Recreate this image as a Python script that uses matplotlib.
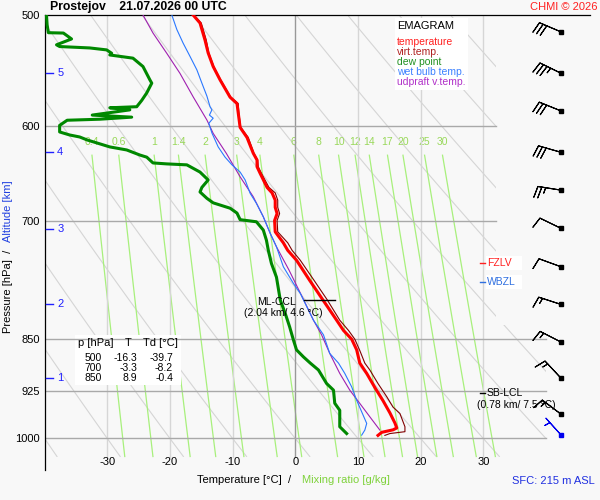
import numpy as np
import matplotlib
matplotlib.use("Agg")
import matplotlib.pyplot as plt
from matplotlib.patches import Polygon, Rectangle
from matplotlib.lines import Line2D
from matplotlib.ticker import NullLocator

plt.rcParams["font.family"] = ["Liberation Sans", "DejaVu Sans"]

# ---- sounding Prostejov 21.07.2026 00 UTC  (p [hPa], T [°C]) ----
temp_p = [500, 506.6, 521, 532, 544, 556, 572, 578, 587, 601,
          611, 627, 634, 641, 648, 663, 669, 677, 685, 692,
          700, 713, 726, 735, 747, 772, 797, 824, 838, 850,
          865, 884, 899, 920, 940, 959, 975, 983, 986, 990, 995]
temp_t = [-16.3, -15.2, -14.4, -13.9, -13.1, -12.0, -10.4, -9.3, -9.1, -8.8,
          -7.7, -6.7, -6.1, -6.1, -5.6, -4.5, -3.7, -3.2, -3.2, -2.9,
          -3.3, -3.2, -1.9, -1.2, 0.2, 2.3, 4.4, 6.6, 7.7, 9.0,
          9.8, 10.3, 11.4, 12.7, 14.0, 15.1, 15.9, 16.2, 15.6, 13.8, 13.2]

virt_p = [500, 506.6, 521, 532, 544, 556, 572, 578, 587, 601,
          611, 627, 634, 641, 648, 663, 669, 677, 685, 692,
          700, 713, 726, 735, 747, 772, 797, 824, 838, 850,
          866, 884, 894, 914, 934, 950, 960, 981, 989, 992, 995]
virt_t = [-16.2, -15.0, -14.2, -13.8, -13.0, -11.9, -10.3, -9.1, -9.0, -8.7,
          -7.5, -6.6, -6.0, -5.9, -5.4, -4.2, -3.2, -2.8, -2.8, -2.5,
          -2.9, -2.8, -1.2, -0.5, 0.8, 3.0, 5.1, 7.1, 8.5, 9.5,
          10.3, 11.1, 11.9, 13.2, 14.6, 15.6, 16.7, 17.5, 17.5, 15.1, 14.3]

dew_p = [500, 508, 514.7, 515, 520, 525, 526.5, 527.7, 529.4, 532.3,
         533.8, 536.6, 544, 556, 559, 568, 575, 581, 582, 584,
         589, 591, 593, 594, 599, 605.5, 608.5, 610.5, 613.5, 620.5,
         623.6, 628.8, 631, 637, 638, 639, 646.6, 655, 663, 668,
         675, 680, 686, 691.5, 699, 701.4, 711, 723, 735, 751,
         768, 797, 815, 833, 851, 865, 875, 884, 894, 914,
         924, 944, 955, 981, 992]
dew_t = [-39.7, -39.6, -39.4, -37.0, -35.7, -38.1, -37.6, -32.8, -30.1, -29.3,
         -29.6, -25.9, -24.3, -23.2, -22.9, -23.7, -24.5, -25.3, -29.6, -26.4,
         -32.4, -26.1, -31.2, -36.4, -37.6, -37.6, -36.0, -34.4, -33.2, -29.6,
         -26.9, -24.8, -23.7, -22.7, -20.5, -17.3, -15.2, -13.9, -14.9, -15.2,
         -14.1, -13.1, -10.4, -9.3, -8.8, -6.2, -5.1, -4.6, -4.3, -3.8,
         -3.0, -2.4, -1.6, -0.9, -0.3, 0.2, 1.3, 2.4, 3.7, 5.0,
         6.1, 6.3, 7.1, 7.1, 8.2]

wb_p = [500, 512, 523.5, 535, 547, 559, 571, 581, 584, 589,
        592, 597, 606.5, 620.5, 631, 639, 646.6, 655, 669.5, 680.6,
        695.7, 714.8, 730.7, 755, 775.8, 788.6, 824, 844, 870, 884,
        899, 919, 939.5, 957.4, 975.7, 986.4, 994.6]
wb_t = [-19.7, -18.9, -17.9, -16.8, -15.7, -14.9, -14.1, -13.6, -13.3, -13.7,
        -13.1, -13.8, -13.3, -12.3, -11.2, -10.1, -8.8, -8.0, -7.2, -6.2,
        -5.1, -4.0, -3.0, -1.9, -0.3, 0.8, 2.9, 4.5, 5.5, 6.9,
        7.9, 9.0, 9.8, 10.6, 11.4, 11.1, 10.6]

upd_p = [500, 515, 532.4, 550.1, 571.6, 593.8, 606.9, 627.1, 651.6, 673.3,
         695.7, 714.8, 730.7, 759.1, 793, 824, 844, 870, 899, 924,
         944.3, 965.2, 986.4]
upd_t = [-24.3, -22.7, -20.5, -18.4, -16.3, -14.1, -13.1, -11.0, -8.8, -6.7,
         -5.1, -4.0, -3.0, -1.0, 1.1, 2.9, 4.2, 5.5, 7.1, 8.7,
         10.3, 11.9, 13.5]

# wind every 500 m (direction [deg], speed [kt])
wind_p = [514, 550, 585, 626, 666, 709, 755, 803, 854, 906, 961]
wind_dir = [293, 296, 292, 286, 279, 296, 290, 288, 297, 317, 307]
wind_kt = [30, 35, 30, 30, 25, 10, 10, 15, 15, 15, 15]
sfc_p, sfc_dir, sfc_kt = 994, 318, 5

alt_km = [1, 2, 3, 4, 5]
alt_p = [906, 803, 710, 626, 550]

tbl_p = [500, 700, 850]
tbl_t = [-16.3, -3.3, 8.9]
tbl_td = [-39.7, -8.2, -0.4]

p_levels = [500, 600, 700, 850, 925, 1000]
iso_t = [-30, -20, -10, 0, 10, 20, 30]
dry_theta = list(range(-40, 120, 10))
mix_w = [0.4, 0.6, 1, 1.4, 2, 3, 4, 6, 8, 10, 12, 14, 17, 20, 25, 30]

ccl_p, ccl_t = 797, 4.6


def mr_temp(w, p):
    e = w * p / (622.0 + w)
    a = np.log(e / 6.112)
    return 243.5 * a / (17.67 - a)


# --------------------------------------------------------------------
W, H = 600, 500
BG = "#f8f8f8"
fig = plt.figure(figsize=(W / 100, H / 100), dpi=100, facecolor=BG)
ax = fig.add_axes([44.6 / W, 30 / H, 545.2 / W, 455 / H])
ax.set_facecolor(BG)
ax.set_yscale("log")
ax.set_xlim(-40, 47)
ax.set_ylim(1053, 500)
for s in ("right", "bottom"):
    ax.spines[s].set_visible(False)
for s in ("left", "top"):
    ax.spines[s].set_linewidth(0.9)
ax.set_xticks([])
ax.set_yticks(p_levels)
ax.set_yticklabels([str(p) for p in p_levels])
ax.yaxis.set_minor_locator(NullLocator())
ax.tick_params(axis="y", length=0, pad=3.5, labelsize=8)


def px(x, y, s, **kw):
    return fig.text(x / W, 1 - y / H, s, **kw)


def pxbox(x0, y0, x1, y1, z=1.5):
    ax.add_patch(Rectangle((x0 / W, 1 - y1 / H), (x1 - x0) / W, (y1 - y0) / H,
                           transform=fig.transFigure, fc="white", ec="none", zorder=z))


clip = Polygon([(-40, 500), (32, 500), (32, 830), (40, 830), (40, 1030), (-40, 1030)],
               closed=True, transform=ax.transData)

# ------ background diagram lines ------
pp = np.geomspace(500, 1030, 120)
for th in dry_theta:
    ln, = ax.plot((th + 273.15) * (pp / 1000) ** 0.2857 - 273.15, pp,
                  color="#d5d5d5", lw=0.8, zorder=1)
    ln.set_clip_path(clip)

pm = np.geomspace(629, 1030, 60)
for w in mix_w:
    ax.plot(mr_temp(w, pm), pm, color="#a8f07c", lw=0.9, zorder=1.1)
    ax.text(mr_temp(w, 629), 616, f"{w:g}", color="#99d85a", fontsize=7.5,
            ha="center", va="center", zorder=1.1)

for t in iso_t:
    ax.plot([t, t], [500, 1030], color="#999999" if t == 0 else "#d6d6d6",
            lw=1, zorder=1.2)
    ax.text(t, 1040, f"{t}", ha="center", va="center", fontsize=8)

for p in p_levels[1:]:
    ax.plot([-40, 32 if p < 800 else 40], [p, p], color="#a9a9a9", lw=1, zorder=1.7)

# ------ boxes ------
pxbox(395, 18, 468, 90)
pxbox(75, 335, 181, 385)
pxbox(486, 256, 522, 270)
pxbox(486, 275, 522, 289)

# ------ profiles ------
ax.plot(upd_t, upd_p, color="#a020b0", lw=0.8, zorder=3)
ax.plot(wb_t, wb_p, color="#2a78ff", lw=0.8, zorder=3.1)
ax.plot(dew_t, dew_p, color="#008800", lw=2.2, zorder=3.2)
ax.plot(virt_t, virt_p, color="#800000", lw=0.8, zorder=3.3)
ax.plot(temp_t, temp_p, color="#ff0000", lw=2.2, zorder=3.4)

# ------ wind barbs ------
bx = 42.4
barb_kw = dict(length=5.8, linewidth=0.8, flip_barb=True, zorder=4, clip_on=False,
               sizes=dict(spacing=0.17, height=0.48, width=0.2))
d = np.deg2rad(wind_dir)
spd = np.array(wind_kt, dtype=float)
ax.barbs(np.full(len(wind_p), bx), wind_p, -spd * np.sin(d), -spd * np.cos(d),
         barbcolor="k", **barb_kw)
ax.plot(np.full(len(wind_p), bx), wind_p, "s", ms=3, color="k", zorder=4)
ds = np.deg2rad(sfc_dir)
ax.barbs([bx], [sfc_p], [-sfc_kt * np.sin(ds)], [-sfc_kt * np.cos(ds)],
         barbcolor="#0000ee", **barb_kw)
ax.plot([bx], [sfc_p], "s", ms=3, color="#0000ee", zorder=4)

# ------ altitude scale ------
for km, p in zip(alt_km, alt_p):
    ax.plot([-39.7, -38.6], [p, p], color="#2020ff", lw=1, zorder=4)
    ax.text(-37.5, p, str(km), color="#2020ff", fontsize=8, ha="center", va="center")

# ------ CCL / levels ------
ax.plot([ccl_t - 3.2, ccl_t + 1.7], [ccl_p, ccl_p], color="k", lw=1, zorder=4)
px(296, 302, "ML-CCL", fontsize=7.5, ha="right", va="center")
px(283.5, 313, "(2.04 km/ 4.6 °C)", fontsize=7.5, ha="center", va="center")

for y, s, c in [(262.7, "FZLV", "#ff2020"), (282.3, "WBZL", "#3070e0"),
                (393.3, "SB-LCL", "k")]:
    fig.add_artist(Line2D([480 / W, 485 / W], [1 - y / H] * 2, color=c, lw=1))
    px(487, y, s, color=c, fontsize=7.5, va="center")
px(516, 405, "(0.78 km/ 7.5 °C)", fontsize=7.5, ha="center", va="center")

# ------ legend ------
px(397, 26, "EMAGRAM", fontsize=8, va="center")
for y, s, c in [(42, "temperature", "#ff2020"), (52, "virt.temp.", "#b02020"),
                (62, "dew point", "#209020"), (72, "wet bulb temp.", "#3a80ff"),
                (82, "udpraft v.temp.", "#b030c8")]:
    px(397, y, s, color=c, fontsize=7.5, va="center")

# ------ table ------
px(78, 343, "p [hPa]", fontsize=8, va="center")
px(128, 343, "T", fontsize=8, ha="center", va="center")
px(143, 343, "Td [°C]", fontsize=8, va="center")
for i, (p, t, td) in enumerate(zip(tbl_p, tbl_t, tbl_td)):
    y = 358 + 10 * i
    px(102, y, str(p), fontsize=7.5, ha="right", va="center")
    px(137, y, f"{t:.1f}", fontsize=7.5, ha="right", va="center")
    px(173, y, f"{td:.1f}", fontsize=7.5, ha="right", va="center")

# ------ titles / axis labels ------
px(50, 7, "Prostejov    21.07.2026 00 UTC", fontsize=8.8, fontweight="bold", va="center")
px(530, 7, "CHMI © 2026", color="#ff2020", fontsize=8, va="center")
px(291, 480, "Temperature [°C]  /", fontsize=8, ha="right", va="center")
px(302, 480, "Mixing ratio [g/kg]", color="#7fd23c", fontsize=8, ha="left", va="center")
px(512, 481, "SFC: 215 m ASL", color="#2030e0", fontsize=8, va="center")
px(8, 333, "Pressure [hPa]  /", fontsize=8, rotation=90, ha="center", va="bottom")
px(8, 242, "Altitude [km]", color="#2040e0", fontsize=8, rotation=90, ha="center", va="bottom")

fig.savefig("out.png", dpi=100, facecolor=BG)
